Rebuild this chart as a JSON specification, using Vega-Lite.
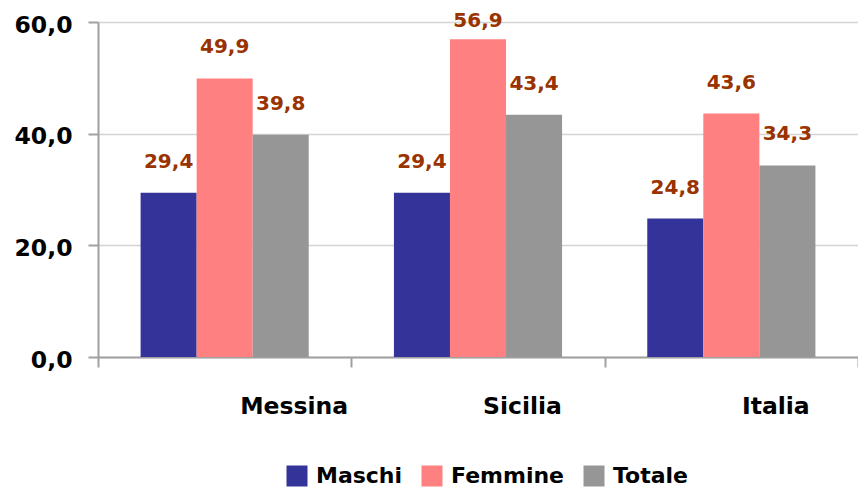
{
  "$schema": "https://vega.github.io/schema/vega-lite/v6.json",
  "width": 760,
  "height": 335,
  "autosize": "none",
  "padding": {"left": 98, "top": 22, "right": 0, "bottom": 132},
  "config": {
    "locale": {"number": {"decimal": ",", "thousands": ".", "grouping": [3], "currency": ["€", ""]}},
    "view": {"stroke": null},
    "font": "DejaVu Sans"
  },
  "data": {
    "values": [
      {"area": "Messina", "serie": "Maschi", "valore": 29.4},
      {"area": "Messina", "serie": "Femmine", "valore": 49.9},
      {"area": "Messina", "serie": "Totale", "valore": 39.8},
      {"area": "Sicilia", "serie": "Maschi", "valore": 29.4},
      {"area": "Sicilia", "serie": "Femmine", "valore": 56.9},
      {"area": "Sicilia", "serie": "Totale", "valore": 43.4},
      {"area": "Italia", "serie": "Maschi", "valore": 24.8},
      {"area": "Italia", "serie": "Femmine", "valore": 43.6},
      {"area": "Italia", "serie": "Totale", "valore": 34.3}
    ]
  },
  "encoding": {
    "x": {
      "field": "area",
      "type": "nominal",
      "sort": ["Messina", "Sicilia", "Italia"],
      "scale": {"paddingInner": 0, "paddingOuter": 0},
      "axis": {
        "title": null,
        "labelAngle": 0,
        "tickBand": "extent",
        "domainColor": "#a0a0a0",
        "domainWidth": 2,
        "tickColor": "#a0a0a0",
        "tickWidth": 2,
        "tickSize": 10,
        "labelOffset": {"condition": {"test": "datum.value === 'Messina'", "value": 69}, "value": 44},
        "labelFontSize": 23.5,
        "labelFontWeight": "bold",
        "labelColor": "#000000",
        "labelPadding": 27
      }
    },
    "xOffset": {
      "field": "serie",
      "sort": ["Maschi", "Femmine", "Totale"],
      "scale": {"paddingInner": 0, "paddingOuter": 0.76}
    },
    "y": {
      "field": "valore",
      "type": "quantitative",
      "scale": {"domain": [0, 60]},
      "axis": {
        "title": null,
        "values": [0, 20, 40, 60],
        "format": ".1f",
        "labelFontSize": 23.5,
        "labelFontWeight": "bold",
        "labelColor": "#000000",
        "labelPadding": 16,
        "labelOffset": 3,
        "domainColor": "#a0a0a0",
        "domainWidth": 2,
        "tickColor": "#a0a0a0",
        "tickWidth": 2,
        "tickSize": 10,
        "grid": true,
        "gridColor": "#d4d4d4",
        "gridWidth": 1.5
      }
    }
  },
  "layer": [
    {
      "mark": {"type": "bar", "strokeWidth": 0},
      "encoding": {
        "color": {
          "field": "serie",
          "type": "nominal",
          "scale": {"domain": ["Maschi", "Femmine", "Totale"], "range": ["#333399", "#FF8080", "#969696"]},
          "legend": {
            "title": null,
            "orient": "none",
            "legendX": 188,
            "legendY": 443,
            "direction": "horizontal",
            "symbolType": "square",
            "symbolSize": 441,
            "symbolStrokeWidth": 0,
            "symbolOpacity": 1,
            "labelFontSize": 22,
            "labelFontWeight": "bold",
            "labelColor": "#000000",
            "labelOffset": 8,
            "columnPadding": 18,
            "labelLimit": 300
          }
        }
      }
    },
    {
      "transform": [{"filter": "datum.valore < 55"}],
      "mark": {"type": "text", "dy": -31, "baseline": "middle", "fontWeight": "bold", "fontSize": 20, "color": "#993300"},
      "encoding": {
        "text": {"field": "valore", "type": "quantitative", "format": ".1f"}
      }
    },
    {
      "transform": [{"filter": "datum.valore >= 55"}],
      "mark": {"type": "text", "dy": -18, "baseline": "middle", "fontWeight": "bold", "fontSize": 20, "color": "#993300"},
      "encoding": {
        "text": {"field": "valore", "type": "quantitative", "format": ".1f"}
      }
    }
  ]
}
